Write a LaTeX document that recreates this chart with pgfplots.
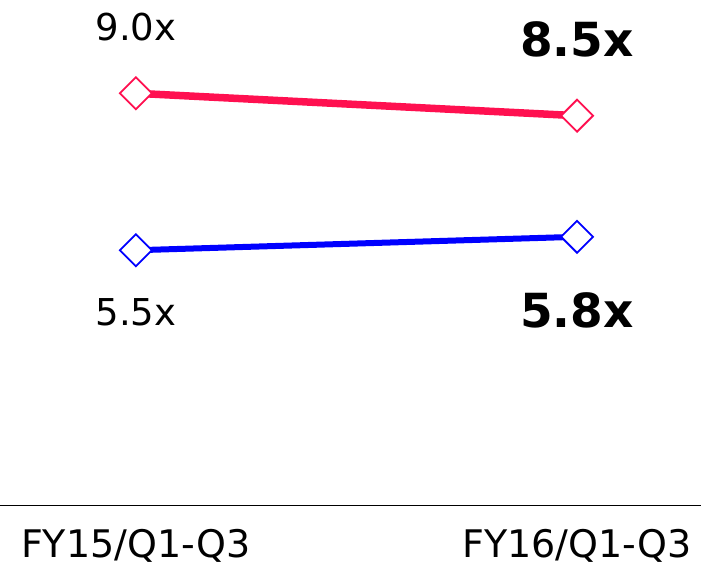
\documentclass[border=0pt]{standalone}
\usepackage{pgfplots}
\pgfplotsset{compat=1.18}
\usepackage{fontspec}
\setmainfont{DejaVu Sans}
\definecolor{cred}{RGB}{255,16,80}
\definecolor{cblue}{RGB}{0,0,255}
\begin{document}
\begin{tikzpicture}
\begin{axis}[
  at={(0pt,74pt)}, anchor=south west,
  scale only axis, width=701pt, height=505pt,
  xmin=-0.308, xmax=1.281,
  ymin=-0.18, ymax=11.08,
  clip=false,
  hide y axis,
  axis x line*=bottom,
  x axis line style={-, black, line width=0.8pt},
  xtick={0,1},
  xticklabels={FY15/Q1-Q3, FY16/Q1-Q3},
  major tick length=0pt,
  xticklabel style={font=\fontsize{38}{45}\selectfont, yshift=-21pt},
]
\addplot[cred, line width=7.5pt, mark=square*, mark size=11.3pt,
  mark options={rotate=45, solid, fill=white, draw=cred, line width=1.8pt}]
  coordinates {(0,9.0) (1,8.5)};
\addplot[cblue, line width=6pt, mark=square*, mark size=11.3pt,
  mark options={rotate=45, solid, fill=white, draw=cblue, line width=1.8pt}]
  coordinates {(0,5.5) (1,5.8)};
\node[font=\fontsize{37}{44}\selectfont] at (axis cs:0,10.48) {9.0x};
\node[font=\fontsize{47}{55}\selectfont\bfseries] at (axis cs:1,10.21) {8.5x};
\node[font=\fontsize{37}{44}\selectfont] at (axis cs:0,4.12) {5.5x};
\node[font=\fontsize{47}{55}\selectfont\bfseries] at (axis cs:1,4.17) {5.8x};
\end{axis}
\pgfresetboundingbox
\useasboundingbox (0,0) rectangle (701pt,579pt);
\end{tikzpicture}
\end{document}
